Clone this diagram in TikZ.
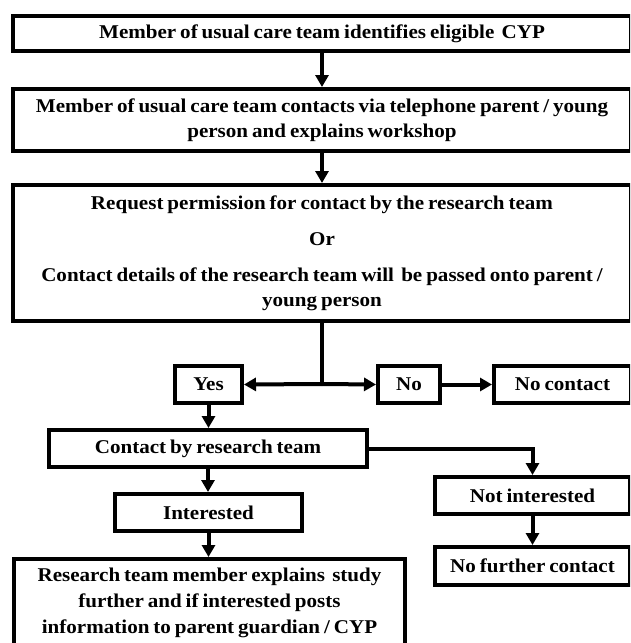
\documentclass[tikz,border=0pt]{standalone}
\usepackage{fontspec}
\setmainfont{Liberation Serif}[FakeStretch=1.08,WordSpace=0.75]
\usetikzlibrary{arrows.meta}
\tikzset{
  box/.style={draw=black, line width=4pt, inner sep=0pt, align=center,
    font=\fontsize{19.5}{25}\selectfont\bfseries},
  conn/.style={line width=4pt, -{Triangle[length=12pt,width=13pt]}},
  plain/.style={line width=4pt}
}
\begin{document}
\begin{tikzpicture}[x=1pt,y=-1pt]
\useasboundingbox (0,0) rectangle (630,643);
\clip (0,0) rectangle (630,643);
\fill[white] (0,0) rectangle (630,643);
% top boxes
\node[box, minimum width=618pt, minimum height=35pt] (b1) at (322,33.5)
  {Member of usual care team identifies eligible\, CYP};
\node[box, minimum width=618pt, minimum height=62pt] (b2) at (322,120)
  {Member of usual care team contacts via telephone parent / young\\ person and explains workshop};
\node[box, minimum width=618pt, minimum height=136pt] (b3) at (322,253)
  {Request permission for contact by the research team\\[11pt] Or\\[11pt] Contact details of the research team will\, be passed onto parent /\\ young person};
\coordinate (j) at (322,384);
% decision row
\node[box, minimum width=67pt, minimum height=37pt] (yes) at (208.5,384.5) {Yes};
\node[box, minimum width=62pt, minimum height=37pt] (no) at (409,384.5) {No};
\node[box, minimum width=137pt, minimum height=37pt] (nocontact) at (562.5,384.5) {No contact};
% left branch
\node[box, minimum width=318pt, minimum height=37pt] (contact) at (208,448.5) {Contact by research team};
\node[box, minimum width=187pt, minimum height=37pt] (interested) at (208.5,512.5) {Interested};
\node[box, minimum width=391pt, minimum height=88pt, font=\fontsize{19.5}{26}\selectfont\bfseries] (explain) at (209.5,603)
  {Research team member explains\, study\\ further and if interested posts\\ information to parent guardian / CYP};
% right branch
\node[box, minimum width=195pt, minimum height=37pt] (notint) at (532.5,495.5) {Not interested};
\node[box, minimum width=195pt, minimum height=38pt] (nofurther) at (532.5,566) {No further contact};
% connectors
\draw[conn] (b1.south) -- (b2.north);
\draw[conn] (b2.south) -- (b3.north);
\draw[plain] (b3.south) -- (j);
\draw[conn] (j) -- (yes.east);
\draw[conn] (j) -- (no.west);
\draw[conn] (no.east) -- (nocontact.west);
\draw[conn] (yes.south) -- (yes.south |- contact.north);
\draw[conn] (contact.south) -- (contact.south |- interested.north);
\draw[conn] (interested.south) -- (interested.south |- explain.north);
\draw[conn] (contact.east) -| (notint.north);
\draw[conn] (notint.south) -- (nofurther.north);
\end{tikzpicture}
\end{document}
